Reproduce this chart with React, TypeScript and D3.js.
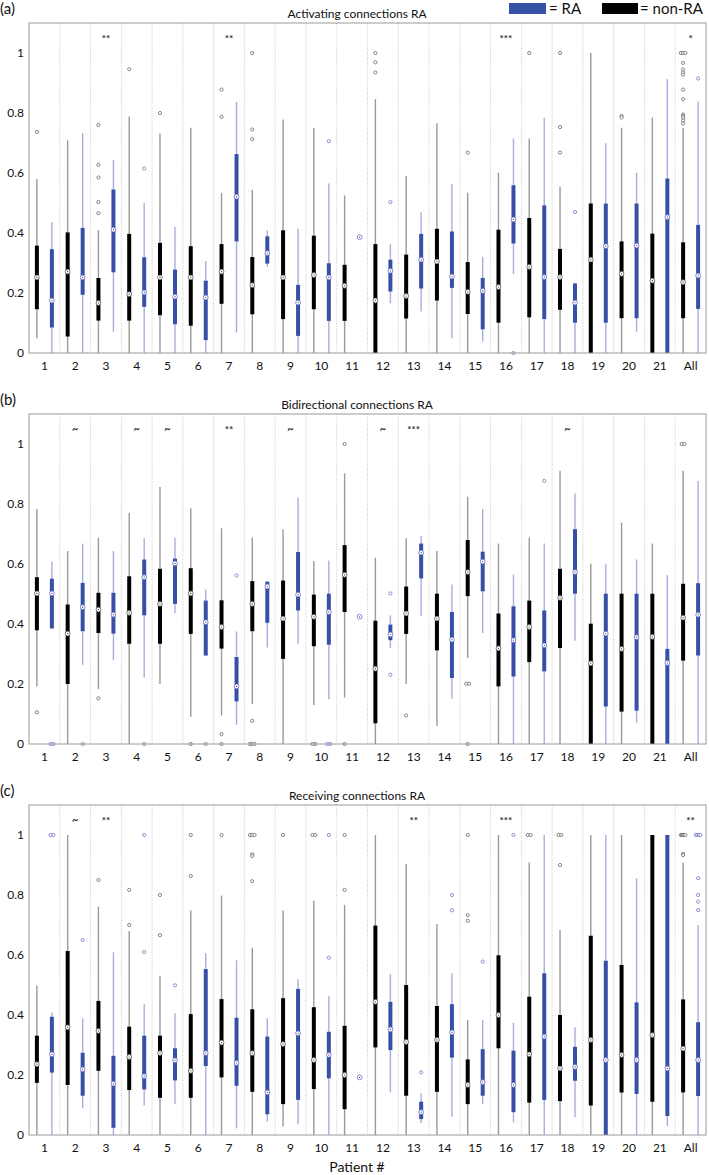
import React from 'react';
import * as d3 from 'd3';

const groups = ['1','2','3','4','5','6','7','8','9','10','11','12','13','14','15','16','17','18','19','20','21','All'];
const yTicks = [0, 0.2, 0.4, 0.6, 0.8, 1];

// [whiskerLow, q1, median, q3, whiskerHigh]
const actNonRA = [
  [0.049,0.146,0.252,0.358,0.58],[0,0.055,0.271,0.402,0.709],[0,0.108,0.167,0.25,0.41],[0,0.108,0.196,0.397,0.788],
  [0,0.126,0.252,0.367,0.732],[0,0.091,0.252,0.356,0.751],[0,0.164,0.271,0.363,0.534],[0,0.129,0.226,0.32,0.544],
  [0,0.113,0.252,0.409,0.778],[0,0.146,0.26,0.391,0.75],[0,0.107,0.224,0.294,0.525],[0,0,0.175,0.363,0.846],
  [0,0.115,0.19,0.328,0.59],[0,0.175,0.305,0.414,0.766],[0,0.13,0.204,0.303,0.534],[0,0.101,0.22,0.411,0.601],
  [0,0.119,0.287,0.45,0.715],[0,0.144,0.253,0.347,0.554],[0,0,0.311,0.498,1.0],[0,0.116,0.264,0.372,0.751],
  [0,0,0.241,0.398,0.785],[0,0.116,0.236,0.369,0.75]
];
const actRA = [
  [0,0.085,0.175,0.346,0.436],[0,0.194,0.252,0.417,0.733],[0.071,0.269,0.411,0.545,0.644],[0,0.154,0.202,0.319,0.5],
  [0,0.096,0.188,0.278,0.42],[0,0.043,0.185,0.241,0.307],[0.068,0.372,0.521,0.663,0.837],[0.287,0.298,0.333,0.389,0.409],
  [0,0.057,0.168,0.227,0.414],[0,0.107,0.252,0.299,0.565],[0.386,0.386,0.386,0.386,0.386],[0.166,0.205,0.274,0.311,0.363],
  [0.138,0.215,0.311,0.397,0.469],[0.049,0.217,0.255,0.405,0.564],[0.038,0.079,0.207,0.25,0.321],[0.263,0.365,0.445,0.559,0.715],
  [0,0.113,0.253,0.492,0.784],[0,0.101,0.168,0.232,0.232],[0,0.101,0.356,0.498,0.699],[0.071,0.116,0.358,0.498,0.601],
  [0,0,0.453,0.582,0.913],[0,0.147,0.258,0.427,0.838]
];
const actNonRAOut = [
  [0.737],[],[0.76,0.627,0.585,0.503,0.466],[0.946],[0.8],[],[0.878,0.787],[1.0,0.745,0.713],[],[],[],
  [1.0,0.969,0.935],[],[],[0.668],[],[1.0],[1.0,0.753,0.668],[],[0.79,0.785],[],
  [1.0,1.0,1.0,0.967,0.945,0.935,0.928,0.878,0.846,0.795,0.79,0.785,0.775,0.765]
];
const actRAOut = [
  [],[],[],[0.615],[],[],[],[],[],[0.706],[],[0.503],[],[],[],[0.0],[],[0.47],[],[],[],[0.915]
];
const actSig = ['','','**','','','','**','','','','','','','','','***','','','','','','*'];

const biNonRA = [
  [0.192,0.379,0.502,0.556,0.783],[0,0.2,0.368,0.465,0.643],[0.183,0.37,0.448,0.504,0.687],[0,0.334,0.437,0.559,0.771],
  [0.2,0.334,0.467,0.584,0.857],[0.091,0.367,0.502,0.586,0.786],[0.095,0.318,0.39,0.479,0.719],[0.133,0.376,0.467,0.543,0.688],
  [0,0.284,0.418,0.545,0.716],[0.13,0.326,0.424,0.498,0.61],[0.155,0.44,0.564,0.663,0.902],[0,0.069,0.251,0.411,0.621],
  [0.2,0.367,0.435,0.525,0.686],[0.06,0.312,0.418,0.501,0.643],[0.287,0.493,0.573,0.68,0.824],[0,0.192,0.319,0.435,0.668],
  [0,0.273,0.39,0.478,0.688],[0,0.32,0.487,0.584,0.911],[0,0,0.269,0.401,0.601],[0,0.108,0.317,0.501,0.738],
  [0,0,0.357,0.501,0.668],[0,0.278,0.421,0.534,0.911]
];
const biRA = [
  [0.385,0.385,0.502,0.551,0.608],[0.264,0.376,0.456,0.537,0.668],[0.279,0.368,0.431,0.504,0.643],[0.222,0.429,0.556,0.615,0.687],
  [0.437,0.467,0.602,0.618,0.688],[0.295,0.295,0.406,0.478,0.515],[0.064,0.142,0.192,0.29,0.375],[0.322,0.404,0.525,0.541,0.543],
  [0.333,0.445,0.498,0.64,0.822],[0.149,0.331,0.44,0.501,0.612],[0.424,0.424,0.424,0.424,0.424],[0.32,0.346,0.365,0.398,0.429],
  [0.426,0.552,0.638,0.668,0.693],[0.151,0.22,0.348,0.44,0.532],[0.37,0.509,0.608,0.641,0.783],[0,0.225,0.346,0.459,0.565],
  [0,0.242,0.329,0.445,0.668],[0.344,0.501,0.573,0.716,0.835],[0,0.125,0.368,0.501,0.601],[0.071,0.111,0.356,0.501,0.615],
  [0,0,0.27,0.317,0.563],[0,0.295,0.431,0.536,0.877]
];
const biNonRAOut = [
  [0.106],[],[0.152],[],[],[0],[0.033,0],[0.077,0,0,0],[],[0,0],[1.0,0],[],[0.095],[],[0.201,0.201,0],[],[],[],[],[],[],[1.0,1.0]
];
const biRAOut = [
  [0,0],[0],[],[0],[],[0],[0.562],[],[],[0,0],[],[0.502,0.231],[],[],[],[],[0.877],[],[],[],[],[]
];
const biSig = ['','~','','~','~','','**','','~','','','~','***','','','','','~','','','',''];

const recNonRA = [
  [0,0.174,0.236,0.331,0.498],[0,0.167,0.359,0.613,1.0],[0,0.214,0.347,0.447,0.761],[0,0.15,0.26,0.361,0.68],
  [0,0.124,0.273,0.331,0.531],[0,0.124,0.214,0.403,0.748],[0,0.192,0.308,0.453,0.798],[0,0.144,0.273,0.419,0.624],
  [0.028,0.103,0.303,0.456,0.748],[0,0.153,0.25,0.426,0.781],[0,0.086,0.2,0.364,0.767],[0,0.292,0.444,0.698,1.0],
  [0,0.131,0.31,0.5,0.903],[0,0.144,0.317,0.43,0.703],[0,0.103,0.167,0.252,0.383],[0,0.289,0.4,0.599,1.0],
  [0,0.108,0.269,0.461,0.908],[0,0.113,0.222,0.4,0.683],[0,0.098,0.317,0.664,1.0],[0,0.142,0.267,0.567,1.0],
  [0,0.111,0.333,1.0,1.0],[0,0.142,0.288,0.452,0.908]
];
const recRA = [
  [0,0.208,0.269,0.394,0.408],[0.089,0.131,0.219,0.274,0.389],[0,0.024,0.171,0.264,0.609],[0.098,0.152,0.196,0.331,0.436],
  [0.103,0.182,0.249,0.289,0.406],[0,0.23,0.273,0.553,0.606],[0.022,0.164,0.24,0.391,0.583],[0.044,0.069,0.142,0.328,0.389],
  [0.036,0.117,0.339,0.487,0.519],[0,0.189,0.267,0.344,0.463],[0.192,0.192,0.192,0.192,0.192],[0.142,0.283,0.352,0.444,0.536],
  [0.039,0.053,0.076,0.111,0.139],[0.061,0.258,0.342,0.436,0.539],[0.103,0.131,0.176,0.286,0.383],[0.042,0.076,0.167,0.281,0.374],
  [0,0.117,0.328,0.539,1.0],[0.059,0.181,0.227,0.294,0.359],[0,0,0.25,0.581,1.0],[0,0.137,0.25,0.442,0.856],
  [0.03,0.063,0.222,1.0,1.0],[0,0.13,0.25,0.376,0.7]
];
const recNonRAOut = [
  [],[],[0.85],[0.817,0.7],[0.8,0.666],[1.0,0.863],[1.0],[1.0,1.0,1.0,0.936,0.93,0.846],[1.0],[1.0,1.0],[1.0,0.817],
  [],[],[],[1.0,0.733,0.714],[],[1.0,1.0],[1.0,1.0,0.9],[],[],[],[1.0,1.0,1.0,1.0,1.0,0.937,0.933]
];
const recRAOut = [
  [1.0,1.0],[0.65],[],[1.0,0.61],[0.499],[],[],[],[],[1.0,0.591],[],[],[0.209],[0.8,0.749],[0.578],[1.0],[],[],[],[],[],
  [1.0,1.0,1.0,1.0,0.856,0.8,0.778,0.75]
];
const recSig = ['','~','**','','','','','','','','','','**','','','***','','','','','','**'];

const panels = [
  { label: '(a)', title: 'Activating connections RA', top: 23, bottom: 353, non: actNonRA, ra: actRA, nonOut: actNonRAOut, raOut: actRAOut, sig: actSig },
  { label: '(b)', title: 'Bidirectional connections RA', top: 414, bottom: 744, non: biNonRA, ra: biRA, nonOut: biNonRAOut, raOut: biRAOut, sig: biSig },
  { label: '(c)', title: 'Receiving connections RA', top: 805, bottom: 1135, non: recNonRA, ra: recRA, nonOut: recNonRAOut, raOut: recRAOut, sig: recSig },
];

const FONT = 'Lato, "Open Sans", sans-serif';
const LEFT = 29, RIGHT = 706;
const BLUE = '#3550a6';
const BLUE_W = '#a9aee0';
const GRAY_W = '#9a9a9a';

function Box({ x, v, y, dark }: { x: number; v: number[]; y: d3.ScaleLinear<number, number>; dark: boolean }) {
  const [lo, q1, med, q3, hi] = v;
  return (
    <g>
      {hi > lo && <line x1={x} x2={x} y1={y(lo)} y2={y(hi)} stroke={dark ? GRAY_W : BLUE_W} strokeWidth={1.4} />}
      {q3 > q1 && <line x1={x} x2={x} y1={y(q1)} y2={y(q3)} stroke={dark ? '#000' : BLUE} strokeWidth={4} />}
      <circle cx={x} cy={y(med)} r={2.4} fill="#fff" stroke={dark ? '#666' : '#6c74c4'} strokeWidth={0.8} />
      <circle cx={x} cy={y(med)} r={0.6} fill={dark ? '#222' : '#334'} />
    </g>
  );
}

function Outliers({ x, vals, y, dark }: { x: number; vals: number[]; y: d3.ScaleLinear<number, number>; dark: boolean }) {
  const seen: Record<string, number> = {};
  const counts: Record<string, number> = {};
  vals.forEach(v => { counts[String(v)] = (counts[String(v)] || 0) + 1; });
  return (
    <g>
      {vals.map((v, i) => {
        const k = String(v);
        const idx = seen[k] || 0;
        seen[k] = idx + 1;
        const n = counts[k];
        const step = n > 1 ? Math.min(2.8, 4.5 / (n - 1)) : 0;
        const dx = (idx - (n - 1) / 2) * step;
        return <circle key={i} cx={x + dx} cy={y(v)} r={1.6} fill="#fff" stroke={dark ? '#6a6a6a' : '#6f78c8'} strokeWidth={0.8} />;
      })}
    </g>
  );
}

function Panel({ p, isLast }: { p: typeof panels[number]; isLast: boolean }) {
  const x = d3.scaleBand<string>().domain(groups).range([LEFT, RIGHT]).paddingInner(0).paddingOuter(0);
  const y = d3.scaleLinear().domain([0, 1.1]).range([p.bottom, p.top]);
  const bw = x.bandwidth();
  const off = 7.5;
  return (
    <g>
      <text x={0} y={p.top - 9} fontSize={15} fontFamily={FONT} fill="#111">{p.label}</text>
      <text x={357} y={p.top - 5} fontSize={12} fontFamily={FONT} textAnchor="middle" fill="#111">{p.title}</text>
      {groups.slice(1).map(g => (
        <line key={g} x1={x(g)!} x2={x(g)!} y1={p.top} y2={p.bottom} stroke="#b8b8b8" strokeWidth={0.8} strokeDasharray="1,1.5" />
      ))}
      {groups.map((g, i) => {
        const cx = x(g)! + bw / 2;
        return (
          <g key={g}>
            <Box x={cx - off} v={p.non[i]} y={y} dark={true} />
            <Box x={cx + off} v={p.ra[i]} y={y} dark={false} />
            <Outliers x={cx - off} vals={p.nonOut[i]} y={y} dark={true} />
            <Outliers x={cx + off} vals={p.raOut[i]} y={y} dark={false} />
            {p.sig[i] && (
              <text x={cx} y={y(1.05)} dy="0.35em" fontSize={p.sig[i] === '~' ? 11 : 10} fontFamily={FONT} textAnchor="middle" fill="#333" fontWeight="bold">{p.sig[i]}</text>
            )}
            <text x={cx} y={p.bottom + 17} fontSize={12} fontFamily={FONT} textAnchor="middle" fill="#111">{g}</text>
          </g>
        );
      })}
      {yTicks.map(t => (
        <text key={t} x={24} y={y(t)} dy="0.35em" fontSize={12} fontFamily={FONT} textAnchor="end" fill="#111">{String(t)}</text>
      ))}
      <rect x={LEFT} y={p.top} width={RIGHT - LEFT} height={p.bottom - p.top} fill="none" stroke="#999" strokeWidth={1} />
      {isLast && (
        <text x={357} y={1172} fontSize={14} fontFamily={FONT} textAnchor="middle" fill="#111">Patient #</text>
      )}
    </g>
  );
}

export default function App() {
  return (
    <svg width={709} height={1175} style={{ position: 'absolute', left: 0, top: 0, background: '#fff' }}>
      <rect x={0} y={0} width={709} height={1175} fill="#fff" />
      {panels.map((p, i) => <Panel key={p.label} p={p} isLast={i === panels.length - 1} />)}
      <g>
        <rect x={509} y={3} width={37} height={11} fill={BLUE} />
        <text x={549} y={14} fontSize={15} fontFamily={FONT} fill="#111">= RA</text>
        <rect x={602} y={3} width={36} height={11} fill="#000" />
        <text x={640} y={14} fontSize={15} fontFamily={FONT} fill="#111">= non-RA</text>
      </g>
    </svg>
  );
}
